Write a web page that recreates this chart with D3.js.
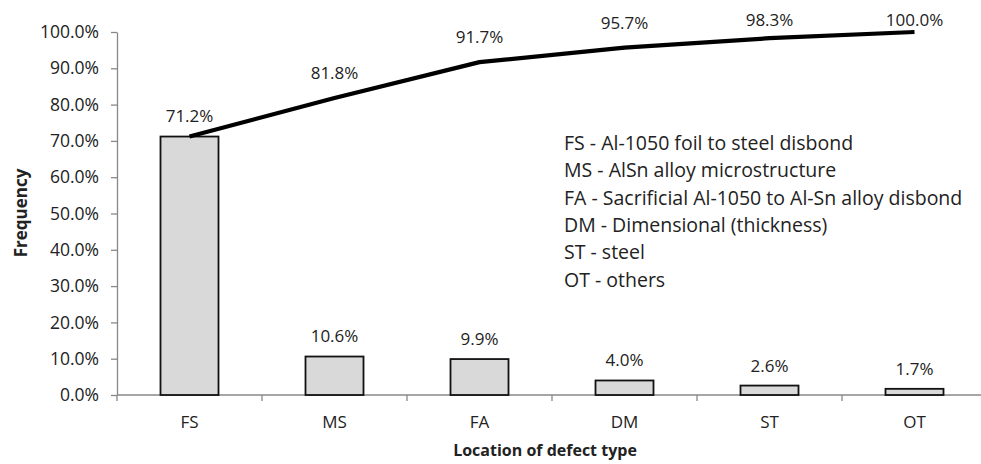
<!DOCTYPE html>
<html><head><meta charset="utf-8">
<script src="https://cdn.jsdelivr.net/npm/d3@7"></script>
<style>
body{margin:0;background:#fff;}
text{font-family:"Open Sans","Noto Sans",sans-serif;fill:#222;}
</style></head>
<body>
<svg id="c" width="981" height="464"></svg>
<script>
const categories = ["FS","MS","FA","DM","ST","OT"];
const frequency = [71.2,10.6,9.9,4.0,2.6,1.7];
const cumulative = [71.2,81.8,91.7,95.7,98.3,100.0];
const yTicks = [0,10,20,30,40,50,60,70,80,90,100];
const legendLines = [
 "FS - Al-1050 foil to steel disbond",
 "MS - AlSn alloy microstructure",
 "FA - Sacrificial Al-1050 to Al-Sn alloy disbond",
 "DM - Dimensional (thickness)",
 "ST - steel",
 "OT - others"
];

const svg = d3.select("#c");
const mLeft = 117, mRight = 987, mTop = 32, mBottom = 395;
const x = d3.scaleBand().domain(categories).range([mLeft, mRight]).padding(0);
const y = d3.scaleLinear().domain([0,100]).range([mBottom, mTop]);
const fmt = v => v.toFixed(1) + "%";
const fs = "17px";

// y axis
const ya = svg.append("g").attr("transform",`translate(${mLeft},0)`)
  .call(d3.axisLeft(y).tickValues(yTicks).tickFormat(fmt).tickSize(6).tickSizeOuter(0).tickPadding(12));
ya.select(".domain").attr("stroke","#888").attr("stroke-width",1.3);
ya.selectAll(".tick line").attr("stroke","#888").attr("stroke-width",1.3);
ya.selectAll(".tick text").style("font-size","17.5px").attr("fill","#222");

// x axis
const xa = svg.append("g").attr("transform",`translate(0,${mBottom})`);
xa.append("line").attr("x1",mLeft).attr("x2",981).attr("y1",0).attr("y2",0).attr("stroke","#888").attr("stroke-width",1.3);
categories.forEach((c,i)=>{
  const bx = x(c);
  xa.append("line").attr("x1",bx).attr("x2",bx).attr("y1",0).attr("y2",6).attr("stroke","#888").attr("stroke-width",1.3);
  xa.append("text").attr("x",bx + x.bandwidth()/2).attr("y",27).attr("dy","0.35em")
    .attr("text-anchor","middle").style("font-size",fs).text(c);
});

// bars
const bw = x.bandwidth()*0.4;
svg.append("g").selectAll("rect").data(frequency).join("rect")
  .attr("x",(d,i)=>x(categories[i]) + x.bandwidth()/2 - bw/2)
  .attr("y",d=>y(d))
  .attr("width",bw)
  .attr("height",d=>mBottom - y(d))
  .attr("fill","#d9d9d9").attr("stroke","#111").attr("stroke-width",1.8);

svg.append("g").selectAll("text").data(frequency).join("text")
  .attr("x",(d,i)=>x(categories[i]) + x.bandwidth()/2)
  .attr("y",d=>y(d) - 20).attr("dy","0.35em")
  .attr("text-anchor","middle").style("font-size",fs).text(fmt);

// cumulative line
const line = d3.line().x((d,i)=>x(categories[i]) + x.bandwidth()/2).y(d=>y(d));
svg.append("path").datum(cumulative).attr("d",line)
  .attr("fill","none").attr("stroke","#000").attr("stroke-width",4.2)
  .attr("stroke-linejoin","round");

svg.append("g").selectAll("text").data(cumulative.slice(1)).join("text")
  .attr("x",(d,i)=>x(categories[i+1]) + x.bandwidth()/2)
  .attr("y",d=>Math.max(y(d) - 25, 20)).attr("dy","0.35em")
  .attr("text-anchor","middle").style("font-size",fs).text(fmt);

// legend text
svg.append("g").selectAll("text").data(legendLines).join("text")
  .attr("x",564).attr("y",(d,i)=>143 + i*27.4).attr("dy","0.35em")
  .style("font-size","19.5px").attr("fill","#111").text(d=>d);

// axis titles
svg.append("text").attr("transform",`translate(21,213) rotate(-90)`)
  .attr("text-anchor","middle").attr("dy","0.35em")
  .style("font-size","17px").style("font-weight","bold").attr("fill","#111").text("Frequency");
svg.append("text").attr("x",545).attr("y",450).attr("dy","0.35em")
  .attr("text-anchor","middle").style("font-size","16px").style("font-weight","bold").attr("fill","#111")
  .text("Location of defect type");
</script>
</body></html>
